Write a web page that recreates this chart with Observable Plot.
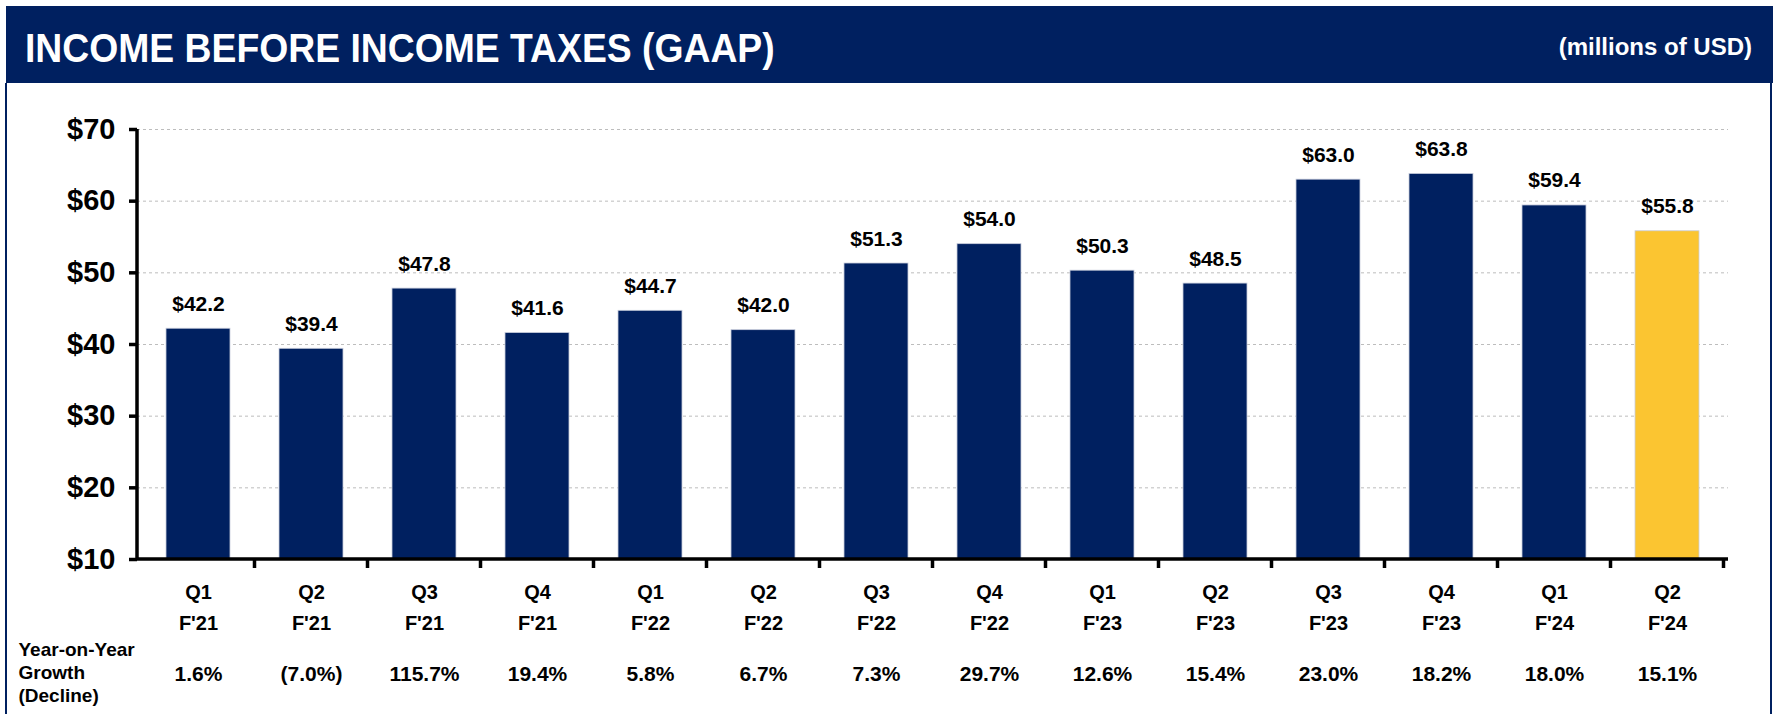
<!DOCTYPE html>
<html>
<head>
<meta charset="utf-8">
<script src="https://cdn.jsdelivr.net/npm/d3@7"></script>
<script src="https://cdn.jsdelivr.net/npm/@observablehq/plot@0.6"></script>
<style>
  html, body { margin: 0; padding: 0; background: #fff; }
  #page { position: relative; width: 1773px; height: 714px; overflow: hidden; background: #fff; }
  #header { position: absolute; left: 6px; top: 6px; width: 1767px; height: 77px; background: #002060; }
  #title { position: absolute; left: 25px; top: 28px; font: bold 41px/1 "Liberation Sans", Arial, sans-serif; color: #fff; white-space: nowrap; transform: scaleX(0.91); transform-origin: 0 0; }
  #units { position: absolute; right: 21px; top: 35px; font: bold 24px/1 "Liberation Sans", Arial, sans-serif; color: #fff; white-space: nowrap; }
  #lb { position: absolute; left: 5px; top: 83px; width: 2px; height: 631px; background: #002060; }
  #rb { position: absolute; left: 1770px; top: 83px; width: 2px; height: 631px; background: #002060; }
  #chart { position: absolute; left: 0; top: 83px; }
</style>
</head>
<body>
<div id="page">
  <div id="header"></div>
  <div id="title">INCOME BEFORE INCOME TAXES (GAAP)</div>
  <div id="units">(millions of USD)</div>
  <div id="lb"></div>
  <div id="rb"></div>
  <div id="chart"></div>
</div>
<script>
const quarters = ["Q1","Q2","Q3","Q4","Q1","Q2","Q3","Q4","Q1","Q2","Q3","Q4","Q1","Q2"];
const fiscalYears = ["F'21","F'21","F'21","F'21","F'22","F'22","F'22","F'22","F'23","F'23","F'23","F'23","F'24","F'24"];
const values = [42.2, 39.4, 47.8, 41.6, 44.7, 42.0, 51.3, 54.0, 50.3, 48.5, 63.0, 63.8, 59.4, 55.8];
const growth = ["1.6%","(7.0%)","115.7%","19.4%","5.8%","6.7%","7.3%","29.7%","12.6%","15.4%","23.0%","18.2%","18.0%","15.1%"];
const yTicks = [10, 20, 30, 40, 50, 60, 70];
const gridTicks = [20, 30, 40, 50, 60, 70];
const rowLabel = "Year-on-Year\nGrowth\n(Decline)";

const categories = quarters.map((q, i) => q + "\n" + fiscalYears[i]);
const data = categories.map((c, i) => ({cat: c, value: values[i], growth: growth[i], current: i === categories.length - 1}));

const NAVY = "#002060";
const GOLD = "#FBC531";
const FONT = "'Liberation Sans', Arial, sans-serif";

function axisLines(index, scales, values, dims) {
  const x = scales.x, y = scales.y;
  const x0 = dims.marginLeft, x1 = dims.width - dims.marginRight;
  const yTop = y(70), yBot = y(10);
  const bw = x.bandwidth ? x.bandwidth() : 0;
  const step = x.step ? x.step() : (x1 - x0) / categories.length;
  const g = d3.create("svg:g").attr("fill", "none").attr("stroke", "#000");
  g.append("path").attr("stroke-width", 3.5).attr("d", `M${x0},${yTop}V${yBot}H${x1}`);
  const bounds = categories.map(c => x(c) + bw / 2 + step / 2);
  g.append("path").attr("stroke-width", 3.5)
    .attr("d", bounds.map(b => `M${b},${yBot}V${yBot + 9}`).join(""));
  return g.node();
}

const plot = Plot.plot({
  width: 1773,
  height: 631,
  marginTop: 46,
  marginBottom: 155,
  marginLeft: 137,
  marginRight: 45,
  style: {fontFamily: FONT, color: "#000", background: "transparent"},
  x: {domain: categories, paddingInner: 0.43, paddingOuter: 0.215, axis: null},
  y: {domain: [10, 70], axis: null},
  marks: [
    Plot.ruleY(gridTicks, {stroke: "#bdbdbd", strokeWidth: 1, strokeDasharray: "3,3"}),
    Plot.barY(data, {x: "cat", y1: 10, y2: "value", fill: d => d.current ? GOLD : NAVY, stroke: "#c8cddc", strokeWidth: 0.8}),
    Plot.text(data, {x: "cat", y: "value", text: d => "$" + d.value.toFixed(1), lineAnchor: "bottom", dy: -18, fontSize: 21, fontWeight: "bold", fill: "#000"}),
    Plot.axisY({ticks: yTicks, tickFormat: d => "$" + d, label: null, tickSize: 8, tickPadding: 14, strokeWidth: 3.5, stroke: "#000", fontSize: 29, fontWeight: "bold", fill: "#000"}),
    Plot.axisX({label: null, tickSize: 0, tickPadding: 17, lineHeight: 1.55, fontSize: 20, fontWeight: "bold", fill: "#000"}),
    Plot.text(data, {x: "cat", y: () => 10, text: "growth", lineAnchor: "bottom", dy: 121, fontSize: 21, fontWeight: "bold", fill: "#000"}),
    Plot.text([rowLabel], {frameAnchor: "bottom-left", text: d => d, textAnchor: "start", lineAnchor: "bottom", dx: -119, dy: 142, lineHeight: 1.2, fontSize: 19, fontWeight: "bold", fill: "#000"}),
    axisLines
  ]
});
document.getElementById("chart").appendChild(plot);
</script>
</body>
</html>
